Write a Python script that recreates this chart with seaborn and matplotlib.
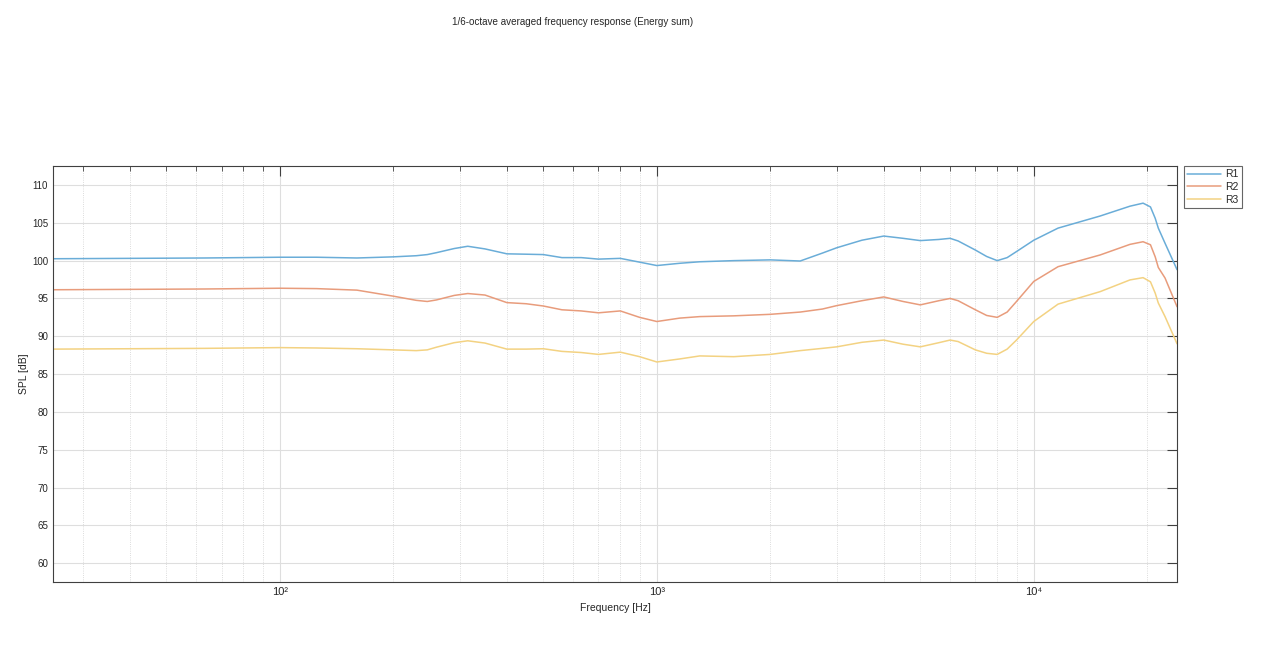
import numpy as np
import pandas as pd
import matplotlib
matplotlib.use("Agg")
import matplotlib.pyplot as plt
import matplotlib.ticker as mticker
import seaborn as sns

# frequencies [Hz]
freqs = [25, 40, 63, 100, 125, 160, 200, 230, 246, 260, 290, 315, 350, 400, 450, 500,
         560, 630, 700, 800, 900, 1000, 1150, 1300, 1600, 2000, 2400, 2750, 3000, 3500,
         4000, 4500, 5000, 5600, 6000, 6300, 7000, 7500, 8000, 8500, 9000, 10000, 11600,
         15000, 18000, 19500, 20400, 21000, 21400, 22300, 24000]

r1 = [100.25, 100.3, 100.35, 100.45, 100.45, 100.35, 100.5, 100.65, 100.8, 101.05, 101.6, 101.9,
      101.55, 100.9, 100.85, 100.8, 100.4, 100.4, 100.2, 100.3, 99.8, 99.35, 99.65, 99.85,
      100.0, 100.1, 99.95, 101.0, 101.7, 102.7, 103.25, 102.95, 102.65, 102.8, 102.95, 102.6,
      101.4, 100.55, 100.0, 100.4, 101.2, 102.7, 104.3, 105.9, 107.2, 107.6, 107.1, 105.6,
      104.3, 102.3, 98.8]

r2 = [96.15, 96.2, 96.25, 96.35, 96.3, 96.1, 95.3, 94.75, 94.6, 94.8, 95.4, 95.65,
      95.45, 94.45, 94.3, 94.0, 93.5, 93.35, 93.1, 93.35, 92.5, 91.95, 92.4, 92.6,
      92.7, 92.9, 93.2, 93.6, 94.05, 94.7, 95.2, 94.6, 94.15, 94.7, 95.0, 94.7,
      93.5, 92.75, 92.5, 93.2, 94.6, 97.25, 99.2, 100.75, 102.15, 102.5, 102.1, 100.5,
      99.1, 97.7, 93.9]

r3 = [88.3, 88.35, 88.4, 88.5, 88.45, 88.35, 88.2, 88.1, 88.2, 88.55, 89.15, 89.4,
      89.1, 88.3, 88.3, 88.35, 88.0, 87.85, 87.6, 87.9, 87.3, 86.6, 87.0, 87.4,
      87.3, 87.6, 88.1, 88.4, 88.6, 89.2, 89.5, 88.95, 88.6, 89.15, 89.5, 89.3,
      88.2, 87.75, 87.6, 88.3, 89.5, 91.95, 94.25, 95.9, 97.45, 97.75, 97.2, 95.7,
      94.4, 92.6, 89.0]

series_names = ["R1", "R2", "R3"]
yticks = list(range(60, 115, 5))
sup = {"2": "\u00b2", "3": "\u00b3", "4": "\u2074"}

df = pd.DataFrame({
    "Frequency": freqs * 3,
    "SPL": r1 + r2 + r3,
    "series": [n for n in series_names for _ in freqs],
})

sns.set_style("white")
plt.rcParams["font.family"] = ["Liberation Sans", "DejaVu Sans"]

# matlab default colours, faded (alpha 0.6 on white)
palette = {"R1": "#6AADD8", "R2": "#E89C7C", "R3": "#F3D282"}

fig = plt.figure(figsize=(12.62, 6.54), dpi=100)
ax = fig.add_axes([0.042, 0.1106, 0.8907, 0.636])

sns.lineplot(data=df, x="Frequency", y="SPL", hue="series", palette=palette,
             linewidth=1.1, ax=ax)

ax.set_xscale("log")
ax.set_xlim(25, 24000)
ax.set_ylim(57.55, 112.55)
ax.set_yticks(yticks)
ax.xaxis.set_major_locator(mticker.LogLocator(base=10))
ax.xaxis.set_minor_locator(mticker.LogLocator(base=10, subs=np.arange(2, 10)))
ax.xaxis.set_minor_formatter(mticker.NullFormatter())
ax.xaxis.set_major_formatter(mticker.FuncFormatter(
    lambda v, p: "10" + "".join(sup.get(c, c) for c in str(int(round(np.log10(v)))))))

ax.grid(which="major", axis="both", color="#dedede", linewidth=0.8, linestyle="-")
ax.grid(which="minor", axis="x", color="#d0d0d0", linewidth=0.6, linestyle=":")
ax.set_axisbelow(True)

for s in ax.spines.values():
    s.set_color("#404040")
    s.set_linewidth(0.8)
ax.tick_params(which="both", direction="in", top=True, right=True, colors="#404040",
               labelcolor="#262626", labelsize=8)
ax.tick_params(which="major", length=7.5, width=0.8)
ax.tick_params(which="minor", length=3.6, width=0.6)
ax.tick_params(axis="y", labelsize=7)

ax.set_xlabel("Frequency [Hz]", fontsize=7.5, color="#262626", labelpad=5)
ax.set_ylabel("SPL [dB]", fontsize=7.5, color="#262626", labelpad=2)

fig.text(0.4535, 0.967, "1/6-octave averaged frequency response (Energy sum)",
         ha="center", va="center", fontsize=7.1, color="#262626")

leg = ax.legend(loc="upper left", bbox_to_anchor=(1.006, 1.0), borderaxespad=0,
                fontsize=7.5, frameon=True, fancybox=False, handlelength=3.2,
                handletextpad=0.4, borderpad=0.35, labelspacing=0.25, title=None)
leg.get_frame().set_edgecolor("#404040")
leg.get_frame().set_linewidth(0.8)

fig.savefig("out.png", dpi=100, facecolor="white")
